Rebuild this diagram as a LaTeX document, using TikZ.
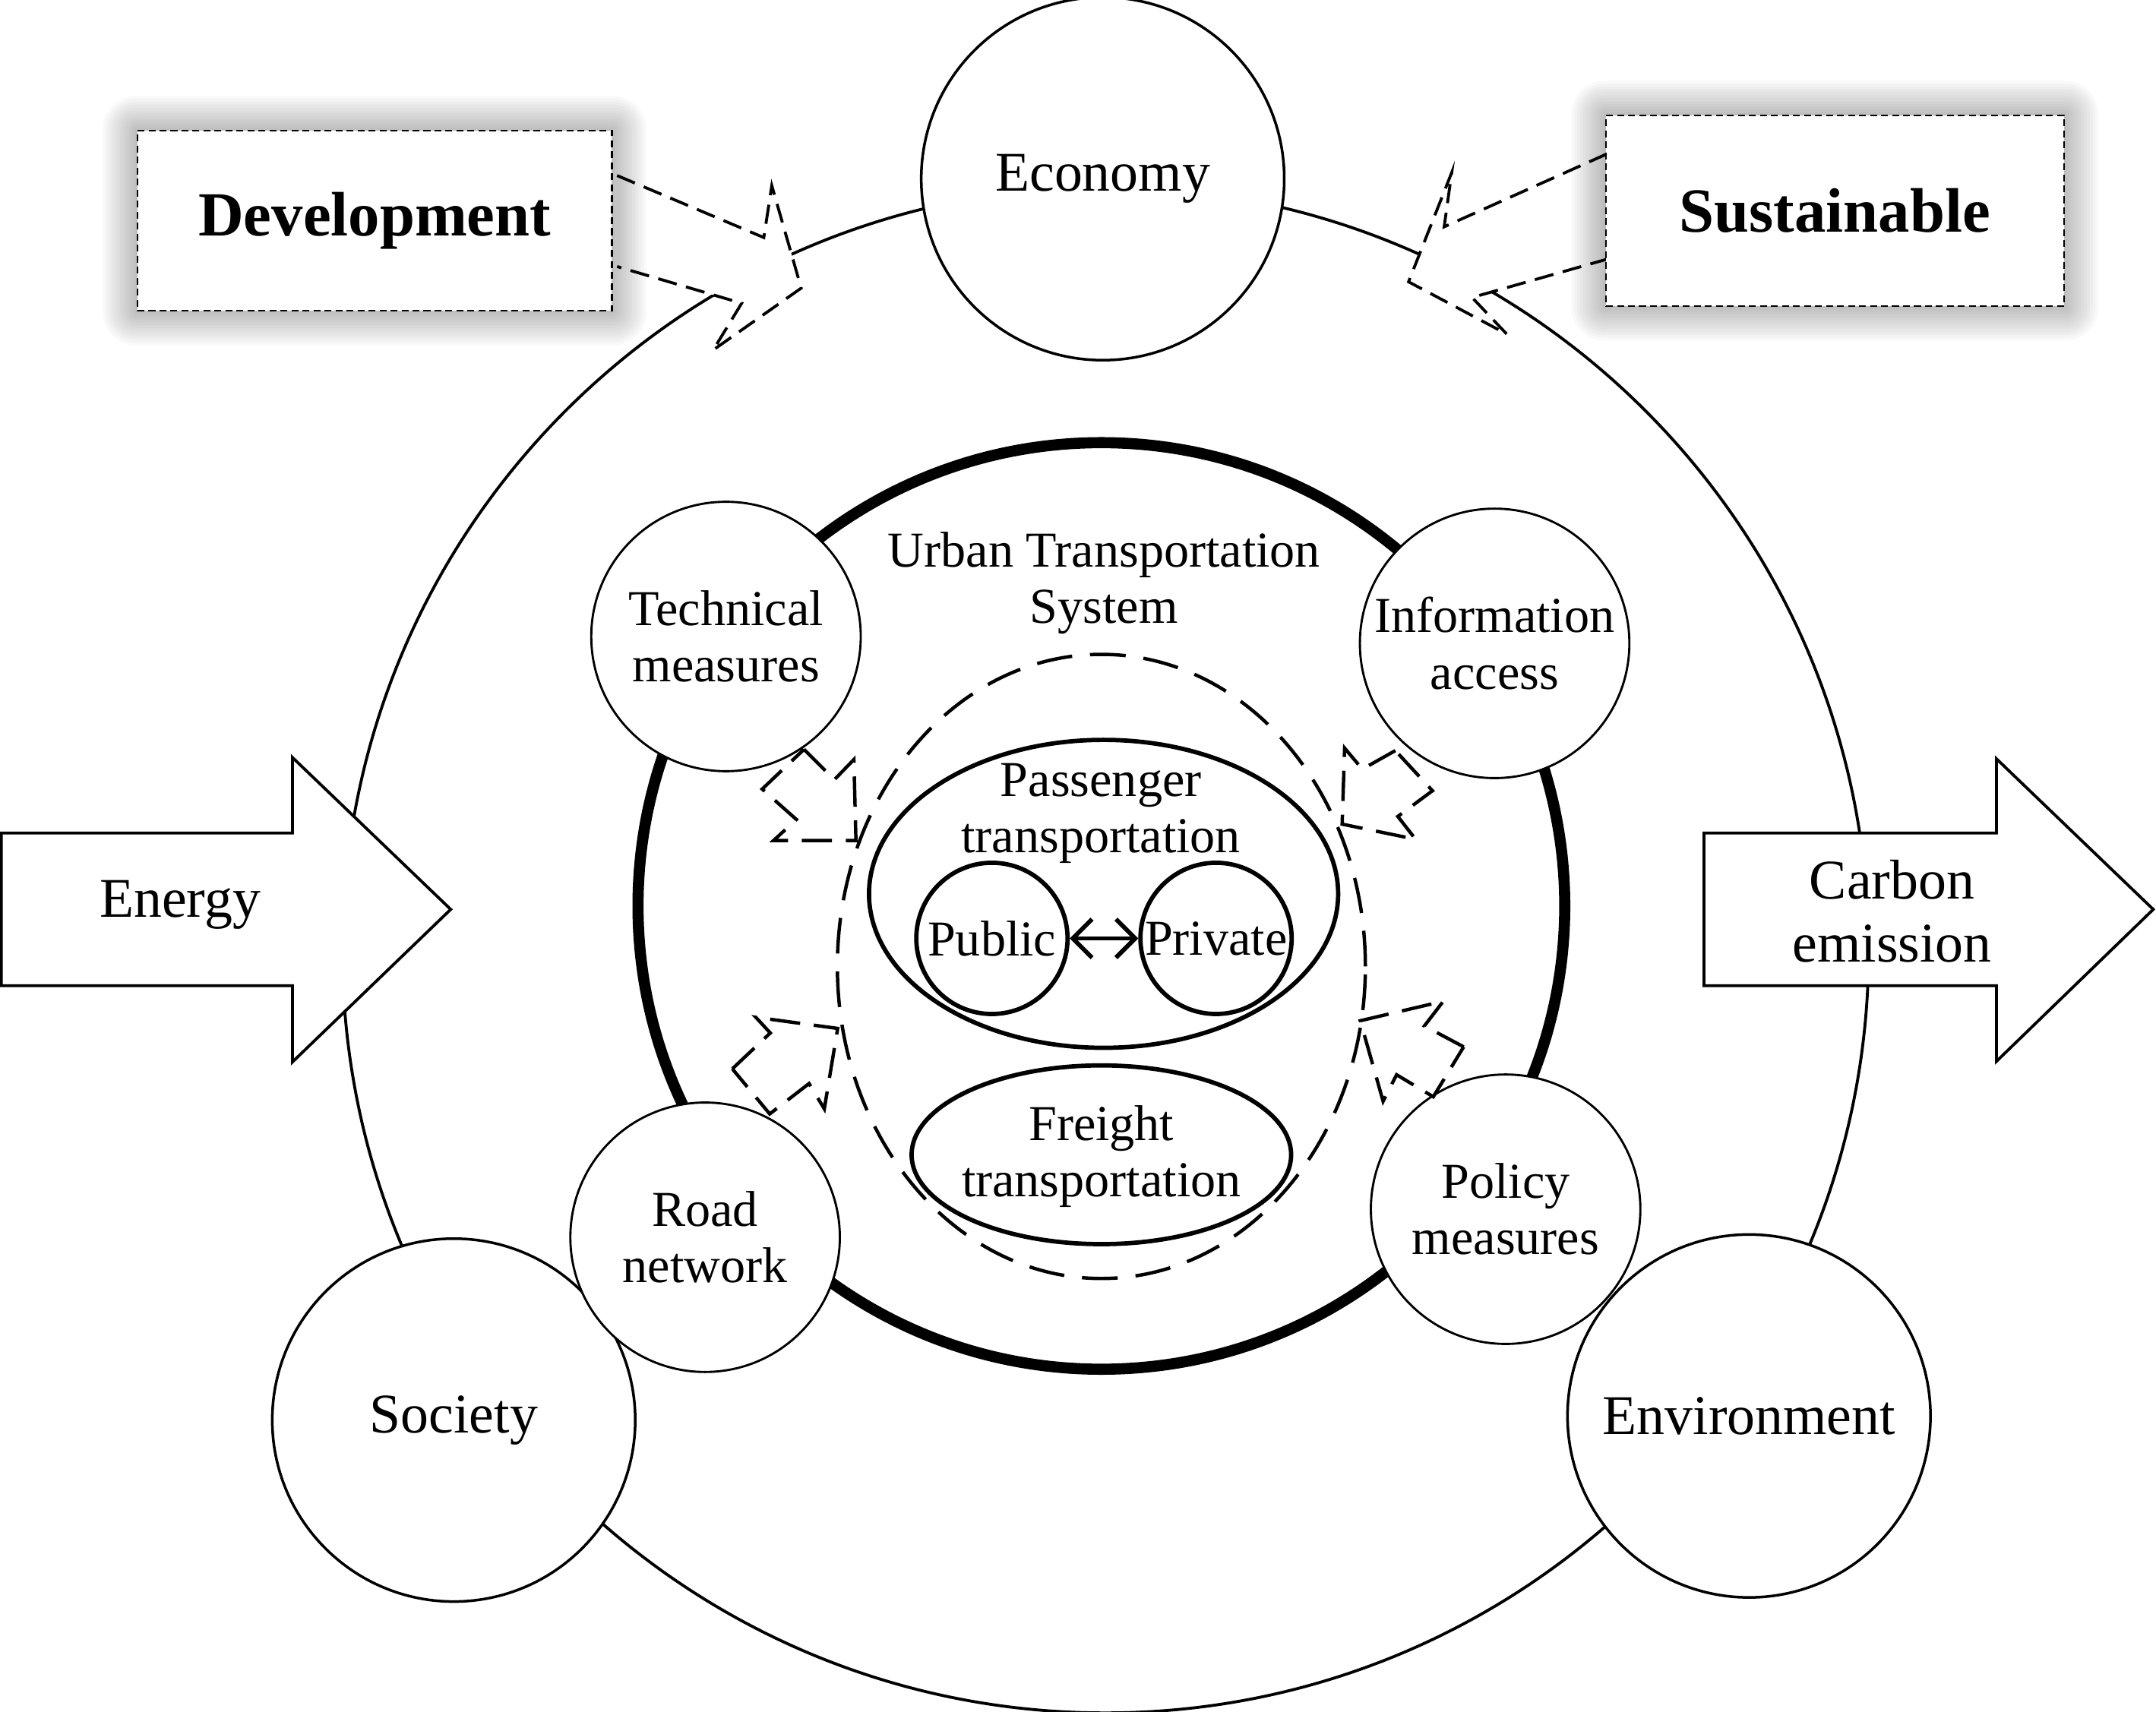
\documentclass[tikz,border=0pt]{standalone}
\usepackage{fontspec}
\setmainfont{Liberation Serif}
\usetikzlibrary{arrows.meta}

\begin{document}
\begin{tikzpicture}[x=0.1mm, y=-0.1mm,
        big/.style = {draw, circle, fill=white, line width=0.55pt, minimum size=26.4mm, inner sep=0pt, font=\fontsize{11.6pt}{13.1pt}\selectfont},
        measure/.style = {draw, circle, fill=white, line width=0.45pt, minimum size=19.6mm, inner sep=0pt, align=center, font=\fontsize{10.4pt}{11.66pt}\selectfont},
        modal/.style = {draw, circle, line width=0.9pt, minimum size=11mm, inner sep=0pt, font=\fontsize{10.4pt}{11.66pt}\selectfont},
        txt/.style = {inner sep=0pt, align=center, font=\fontsize{10.4pt}{11.66pt}\selectfont},
        word/.style = {inner sep=0pt, align=center, font=\fontsize{11.6pt}{13.1pt}\selectfont},
        goal/.style = {draw, dash pattern=on 0.5mm off 0.3mm, line width=0.35pt, fill=white, inner sep=0pt, font=\fontsize{13pt}{15pt}\selectfont\bfseries},
        flow/.style = {draw, fill=white, line width=0.6pt},
        hollow/.style = {draw, fill=white, line width=0.6pt, dash pattern=on 1.4mm off 0.7mm},
        push/.style = {draw, line width=0.7pt, dash pattern=on 2.2mm off 1mm},
        barb/.tip = {Straight Barb[length=1.4mm, width=2.8mm]}]
        \useasboundingbox (0,0) rectangle (1568,1245.3);
        % outer ring and its three pillars
        \draw[line width=0.6pt] (804,691) circle[radius=55.5mm];
        \node[big] (economy) at (802,130) {Economy};
        \node[big] (society) at (330,1033) {Society};
        \node[big] (environment) at (1272,1030) {Environment};
        \draw[hollow] (448.8,127.7) -- (555.5,172.8) -- (561.3,135) -- (582.7,209.6) -- (518.7,254.6) -- (539.4,220.6) -- (448.8,193.9);
        \draw[hollow] (1168.6,112) -- (1050.3,165) -- (1055.8,125.5) -- (1024.4,205) -- (1095.8,243) -- (1070.6,216.4) -- (1168.6,188.6);
        % soft shadows behind the two boxes
        \coordinate (devnw) at (100,95);
        \coordinate (devse) at (445,226);
        \coordinate (susnw) at (1168,84);
        \coordinate (susse) at (1501,222.6);
        \foreach \k in {1,...,12} {
            \fill[black, opacity=0.024, rounded corners=\k*0.2mm] ([xshift=-\k*0.21mm, yshift=\k*0.21mm]devnw) rectangle ([xshift=\k*0.21mm, yshift=-\k*0.21mm]devse);
            \fill[black, opacity=0.024, rounded corners=\k*0.2mm] ([xshift=-\k*0.21mm, yshift=\k*0.21mm]susnw) rectangle ([xshift=\k*0.21mm, yshift=-\k*0.21mm]susse);
        }
        \node[goal, minimum width=34.5mm, minimum height=13.1mm] (development) at (272.5,160.5) {Development};
        \node[goal, minimum width=33.3mm, minimum height=13.9mm] (sustainable) at (1334.5,153.3) {Sustainable};
        % input and output
        \draw[flow] (1,606) -- (212.7,606) -- (212.7,551) -- (327.8,661.5) -- (212.7,772.5) -- (212.7,717) -- (1,717) -- cycle;
        \node[word] (energy) at (131,658) {Energy};
        \draw[flow] (1239.3,606) -- (1452,606) -- (1452,552) -- (1566,661.5) -- (1452,772) -- (1452,717) -- (1239.3,717) -- cycle;
        \node[word] (carbon) at (1376,663) {Carbon\\emission};
        % urban transportation system
        \draw[line width=2.3pt] (801,659) circle[radius=33.7mm];
        \node[txt] (uts) at (803,424) {Urban Transportation\\System};
        \node[measure] (technical) at (528,463) {Technical\\measures};
        \node[measure] (information) at (1087,468) {Information\\access};
        \node[measure] (road) at (512.8,900) {Road\\network};
        \node[measure] (policy) at (1095,879.6) {Policy\\measures};
        \draw[line width=0.7pt, dash pattern=on 2.6mm off 1.3mm] (801,703) ellipse [x radius=19.2mm, y radius=22.7mm];
        \draw[line width=0.9pt] (802.6,650.2) ellipse [x radius=17.06mm, y radius=11.2mm];
        \node[txt] (passenger) at (800.7,591.5) {Passenger\\transportation};
        \node[modal] (public) at (721.4,682.6) {Public};
        \node[modal] (private) at (884.4,682.6) {Private};
        \draw[line width=0.9pt, barb-barb] (public) -- (private);
        \draw[line width=0.9pt] (801,840) ellipse [x radius=13.8mm, y radius=6.5mm];
        \node[txt] (freight) at (801,841.3) {Freight\\transportation};
        % measures acting on the system
        \draw[push] (584.7,545.1) -- (606.8,567.2) -- (621.0,552.5) -- (622.5,611.4) -- (562.6,611.4) -- (579.2,596.1) -- (554.3,574.0) -- cycle;
        \draw[push] (1014.8,546.0) -- (990.8,559.5) -- (977.9,544.2) -- (976.1,599.5) -- (1029.5,610.5) -- (1016.6,593.9) -- (1041.8,575.2) -- cycle;
        \draw[push] (532.6,777.5) -- (560.2,751.4) -- (549.7,740.0) -- (609.2,748.1) -- (599.5,806.6) -- (588.4,788.2) -- (559.8,810.3) -- cycle;
        \draw[push] (1064.5,761.5) -- (1035.9,746.3) -- (1049.7,728.3) -- (989.3,742.5) -- (1005.9,801.1) -- (1015.7,781.8) -- (1042.4,797.8) -- cycle;
    \end{tikzpicture}
\end{document}
